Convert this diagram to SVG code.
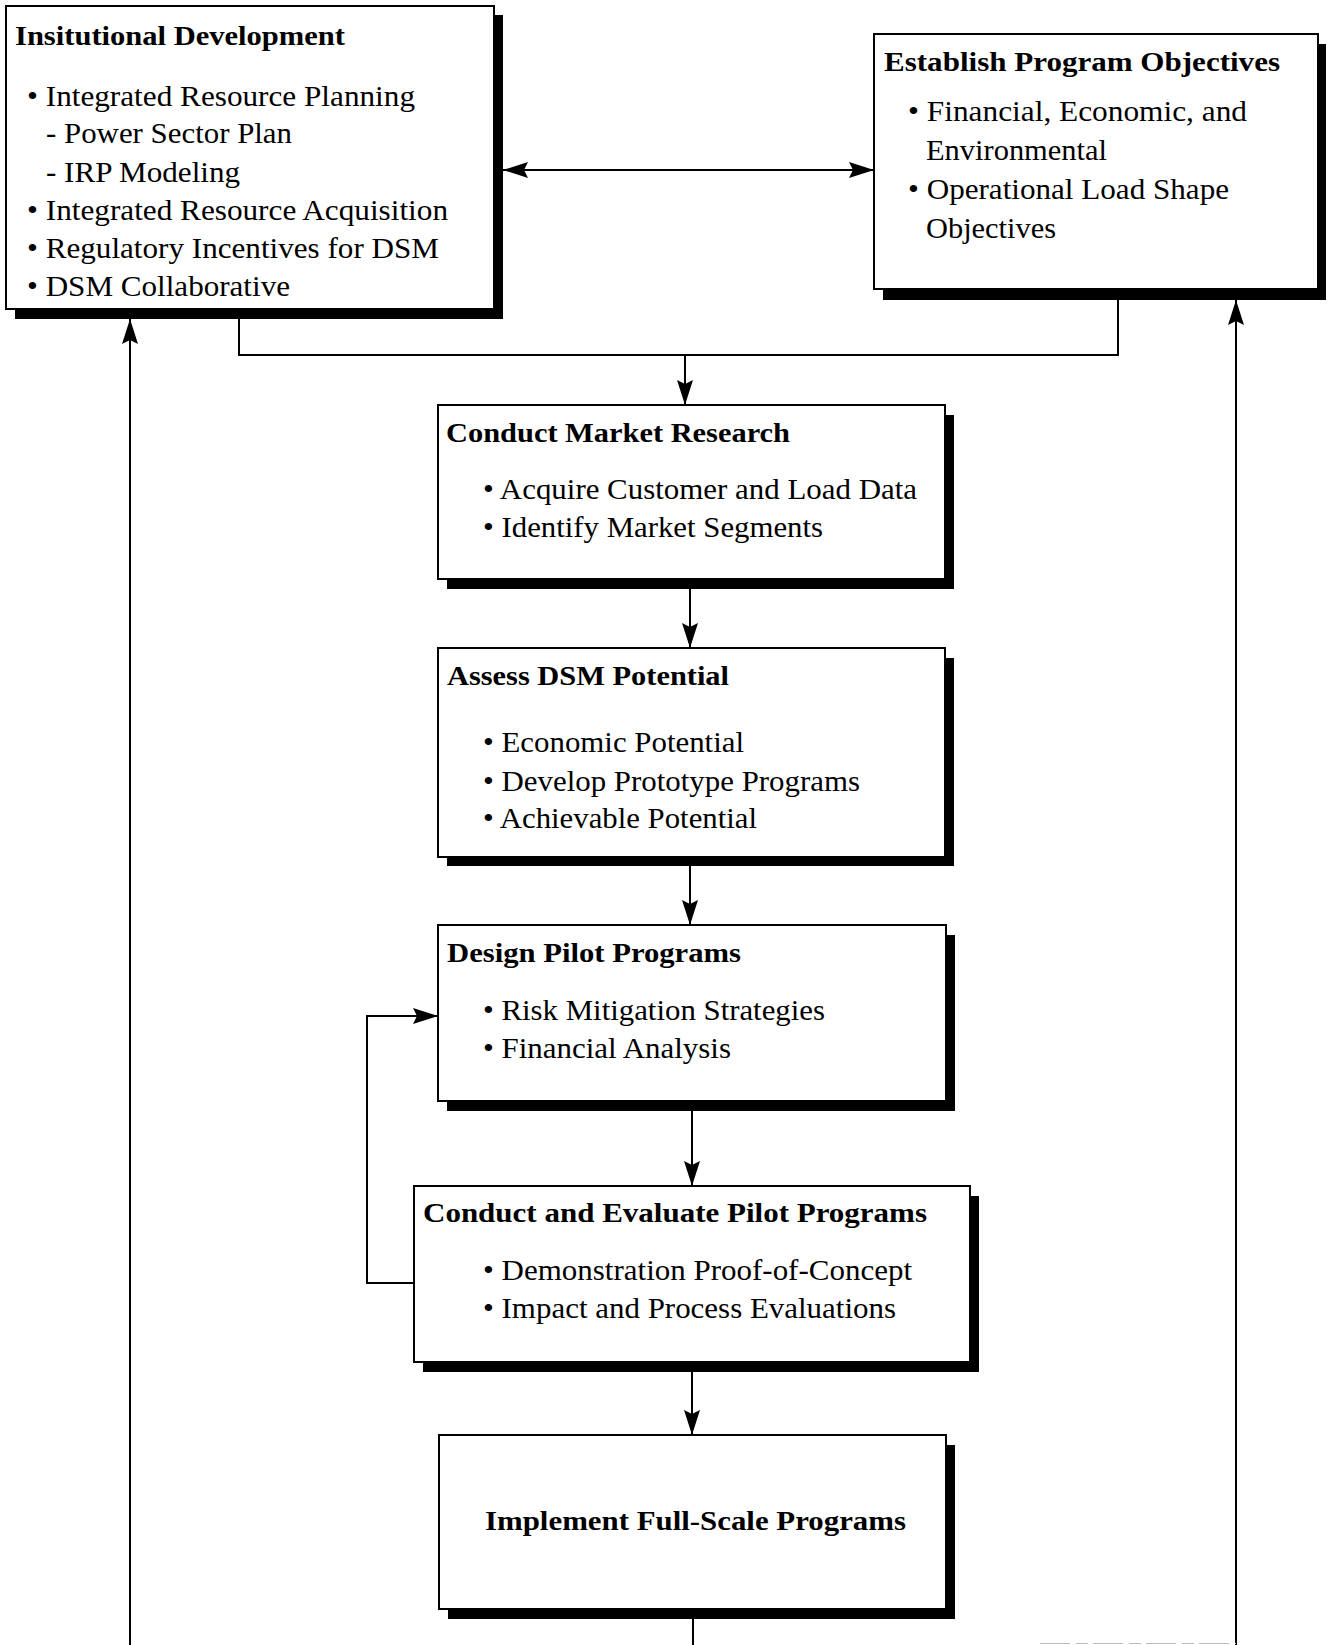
<svg xmlns="http://www.w3.org/2000/svg" width="1333" height="1645" viewBox="0 0 1333 1645">
<defs>
<style>
.box{fill:#fff;stroke:#000;stroke-width:2}
.sh{fill:#000}
.t{font-family:"Liberation Serif","Times New Roman",serif;font-weight:bold;font-size:28px;fill:#000}
.b{font-family:"Liberation Serif","Times New Roman",serif;font-size:30px;fill:#000}
.c{fill:none;stroke:#000;stroke-width:2}
</style>
<marker id="ah" markerUnits="userSpaceOnUse" markerWidth="26" markerHeight="18" refX="25" refY="8" orient="auto-start-reverse" viewBox="0 0 26 18">
<path d="M25,8 L0,0 L4,8 L0,16 Z" fill="#000"/>
</marker>
</defs>
<rect width="1333" height="1645" fill="#fff"/>

<g id="connectors">
<path class="c" d="M503,170 H874" marker-start="url(#ah)" marker-end="url(#ah)"/>
<path class="c" d="M239,319 V355 H1118 V300"/>
<path class="c" d="M685,355 V405" marker-end="url(#ah)"/>
<path class="c" d="M690,589 V648" marker-end="url(#ah)"/>
<path class="c" d="M690,866 V925" marker-end="url(#ah)"/>
<path class="c" d="M692,1111 V1186" marker-end="url(#ah)"/>
<path class="c" d="M414,1283 H367 V1016 H438" marker-end="url(#ah)"/>
<path class="c" d="M692,1372 V1435" marker-end="url(#ah)"/>
<path class="c" d="M693,1619 V1645"/>
<path class="c" d="M130,1645 V319" marker-end="url(#ah)"/>
<path class="c" d="M1236,1645 V300" marker-end="url(#ah)"/>
<path d="M1040,1643.5 H1236" fill="none" stroke="#bbb" stroke-width="1" stroke-dasharray="30 6 12 5"/>
</g>

<g id="institutional-development">
<rect class="sh" x="15" y="15" width="488" height="304"/>
<rect class="box" x="6" y="6" width="488" height="303"/>
<text class="t" x="15" y="45" textLength="330" lengthAdjust="spacingAndGlyphs">Insitutional Development</text>
<text class="b" x="27" y="106" textLength="388" lengthAdjust="spacingAndGlyphs">• Integrated Resource Planning</text>
<text class="b" x="46" y="143" textLength="246" lengthAdjust="spacingAndGlyphs">- Power Sector Plan</text>
<text class="b" x="46" y="182" textLength="194" lengthAdjust="spacingAndGlyphs">- IRP Modeling</text>
<text class="b" x="27" y="220" textLength="421" lengthAdjust="spacingAndGlyphs">• Integrated Resource Acquisition</text>
<text class="b" x="27" y="258" textLength="412" lengthAdjust="spacingAndGlyphs">• Regulatory Incentives for DSM</text>
<text class="b" x="27" y="296" textLength="263" lengthAdjust="spacingAndGlyphs">• DSM Collaborative</text>
</g>

<g id="establish-program-objectives">
<rect class="sh" x="883" y="44" width="443" height="256"/>
<rect class="box" x="874" y="34" width="444" height="255"/>
<text class="t" x="884" y="71" textLength="396" lengthAdjust="spacingAndGlyphs">Establish Program Objectives</text>
<text class="b" x="908" y="121" textLength="339" lengthAdjust="spacingAndGlyphs">• Financial, Economic, and</text>
<text class="b" x="926" y="160" textLength="181" lengthAdjust="spacingAndGlyphs">Environmental</text>
<text class="b" x="908" y="199" textLength="321" lengthAdjust="spacingAndGlyphs">• Operational Load Shape</text>
<text class="b" x="926" y="238" textLength="130" lengthAdjust="spacingAndGlyphs">Objectives</text>
</g>

<g id="conduct-market-research">
<rect class="sh" x="447" y="415" width="507" height="174"/>
<rect class="box" x="438" y="405" width="507" height="174"/>
<text class="t" x="446" y="442" textLength="344" lengthAdjust="spacingAndGlyphs">Conduct Market Research</text>
<text class="b" x="483" y="499" textLength="434" lengthAdjust="spacingAndGlyphs">• Acquire Customer and Load Data</text>
<text class="b" x="483" y="537" textLength="340" lengthAdjust="spacingAndGlyphs">• Identify Market Segments</text>
</g>

<g id="assess-dsm-potential">
<rect class="sh" x="447" y="658" width="507" height="208"/>
<rect class="box" x="438" y="648" width="507" height="209"/>
<text class="t" x="447" y="685" textLength="282" lengthAdjust="spacingAndGlyphs">Assess DSM Potential</text>
<text class="b" x="483" y="752" textLength="261" lengthAdjust="spacingAndGlyphs">• Economic Potential</text>
<text class="b" x="483" y="791" textLength="377" lengthAdjust="spacingAndGlyphs">• Develop Prototype Programs</text>
<text class="b" x="483" y="828" textLength="274" lengthAdjust="spacingAndGlyphs">• Achievable Potential</text>
</g>

<g id="design-pilot-programs">
<rect class="sh" x="447" y="935" width="508" height="176"/>
<rect class="box" x="438" y="925" width="508" height="176"/>
<text class="t" x="447" y="962" textLength="294" lengthAdjust="spacingAndGlyphs">Design Pilot Programs</text>
<text class="b" x="483" y="1020" textLength="342" lengthAdjust="spacingAndGlyphs">• Risk Mitigation Strategies</text>
<text class="b" x="483" y="1058" textLength="248" lengthAdjust="spacingAndGlyphs">• Financial Analysis</text>
</g>

<g id="conduct-evaluate-pilot-programs">
<rect class="sh" x="423" y="1196" width="556" height="176"/>
<rect class="box" x="414" y="1186" width="556" height="176"/>
<text class="t" x="423" y="1222" textLength="504" lengthAdjust="spacingAndGlyphs">Conduct and Evaluate Pilot Programs</text>
<text class="b" x="483" y="1280" textLength="429" lengthAdjust="spacingAndGlyphs">• Demonstration Proof-of-Concept</text>
<text class="b" x="483" y="1318" textLength="413" lengthAdjust="spacingAndGlyphs">• Impact and Process Evaluations</text>
</g>

<g id="implement-full-scale-programs">
<rect class="sh" x="448" y="1445" width="507" height="174"/>
<rect class="box" x="439" y="1435" width="507" height="174"/>
<text class="t" x="485" y="1530" textLength="421" lengthAdjust="spacingAndGlyphs">Implement Full-Scale Programs</text>
</g>
</svg>
